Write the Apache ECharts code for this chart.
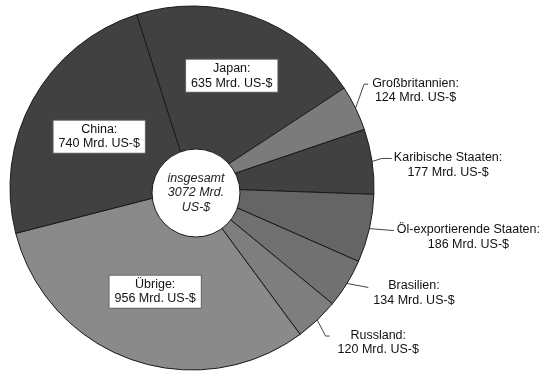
<!DOCTYPE html>
<html><head><meta charset="utf-8">
<script src="https://cdn.jsdelivr.net/npm/echarts@6/dist/echarts.min.js"></script>
<style>html,body{margin:0;padding:0;background:#fff}#c{width:546px;height:371px}</style>
</head><body><div id="c"></div>
<script>
// ---- data ----
const categories = ['Japan', 'Großbritannien', 'Karibische Staaten', 'Öl-exportierende Staaten', 'Brasilien', 'Russland', 'Übrige', 'China'];
const values = [635, 124, 177, 186, 134, 120, 956, 740];
const valueUnit = 'Mrd. US-$';
const totalTitle = 'insgesamt';

// ---- styles / layout ----
const sliceColors = ['#414141', '#7b7b7b', '#414141', '#656565', '#717171', '#7e7e7e', '#8a8a8a', '#414141'];
const insideNames = ['Japan', 'China', 'Übrige'];
const PIE_C = [192, 188];
const PIE_R = 182;
const FONT = "'Liberation Sans', Arial, Helvetica, sans-serif";
const FS = 12.5;
const LH = 14.5;
const labelPlace = {
  'Japan': { dist: 119 },
  'China': { dist: 106 },
  'Übrige': { dist: 110 },
  'Großbritannien': { cx: 60, top: -32, hook: 4, gap: 4, ly: 8 },
  'Karibische Staaten': { cx: 76, top: -11, hook: 10, gap: 2, ly: 8 },
  'Öl-exportierende Staaten': { cx: 99, top: -6, hook: 0, gap: 3, ly: 8 },
  'Brasilien': { cx: 67, top: -5, hook: 0, gap: 5, ly: 9 },
  'Russland': { cx: 61, top: 8, hook: 4, gap: 8, ly: 8 }
};

const total = values.reduce((a, b) => a + b, 0);
const unitParts = valueUnit.split(' ');

const pieData = categories.map((name, i) => {
  const inside = insideNames.indexOf(name) >= 0;
  const item = { name: name, value: values[i], itemStyle: { color: sliceColors[i] } };
  if (inside) {
    item.label = {
      position: 'inside',
      formatter: '{b}:\n{c} ' + valueUnit,
      backgroundColor: '#fff', borderColor: '#666', borderWidth: 1,
      padding: [2, 5, 1, 5], lineHeight: LH, align: 'center'
    };
  } else {
    item.label = {
      position: 'outside',
      formatter: '{t|' + name + ':}\n{t|' + values[i] + ' ' + valueUnit + '}',
      rich: { t: { align: 'center', fontSize: FS, lineHeight: LH, fontFamily: FONT, color: '#111' } }
    };
  }
  return item;
});

const chart = echarts.init(document.getElementById('c'), null, { renderer: 'canvas' });
chart.setOption({
  animation: false,
  backgroundColor: '#fff',
  series: [
    {
      type: 'pie',
      center: PIE_C,
      radius: [0, PIE_R],
      startAngle: 107.7,
      clockwise: true,
      avoidLabelOverlap: false,
      silent: true,
      emphasis: { disabled: true },
      itemStyle: { borderColor: '#1a1a1a', borderWidth: 1 },
      label: { show: true, fontFamily: FONT, fontSize: FS, color: '#111' },
      labelLine: { show: true, length: 10, length2: 5, lineStyle: { color: '#444', width: 1 } },
      labelLayout: function (p) {
        if (p.seriesIndex !== 0) return {};
        const name = categories[p.dataIndex];
        const pl = labelPlace[name];
        if (!pl) return {};
        const r = p.labelRect;
        if (pl.dist) {
          const lx = r.x + r.width / 2, ly = r.y + r.height / 2;
          const vx = lx - PIE_C[0], vy = ly - PIE_C[1];
          const L = Math.hypot(vx, vy) || 1;
          return { x: PIE_C[0] + vx / L * pl.dist, y: PIE_C[1] + vy / L * pl.dist };
        }
        let p1;
        if (p.labelLinePoints && p.labelLinePoints[0]) {
          p1 = p.labelLinePoints[0];
        } else {
          const lx = r.x, ly = r.y + r.height / 2;
          const vx = lx - PIE_C[0], vy = ly - PIE_C[1];
          const L = Math.hypot(vx, vy) || 1;
          p1 = [PIE_C[0] + vx / L * PIE_R, PIE_C[1] + vy / L * PIE_R];
        }
        const left = p1[0] + pl.cx - r.width / 2;
        const top = p1[1] + pl.top;
        const p3 = [left - pl.gap, top + pl.ly];
        const p2 = [p3[0] - pl.hook, p3[1]];
        return { x: left, y: top, align: 'left', verticalAlign: 'top', labelLinePoints: [p1, p2, p3] };
      },
      data: pieData
    },
    {
      type: 'pie',
      center: [196, 193],
      radius: [0, 44],
      silent: true,
      emphasis: { disabled: true },
      itemStyle: { color: '#fff', borderColor: '#1a1a1a', borderWidth: 1 },
      label: {
        show: true, position: 'center',
        formatter: totalTitle + '\n' + total + ' ' + unitParts[0] + '\n' + unitParts.slice(1).join(' '),
        fontFamily: FONT, fontStyle: 'italic', fontSize: FS, lineHeight: LH, color: '#222'
      },
      labelLine: { show: false },
      data: [{ name: totalTitle, value: total }]
    }
  ]
});
</script>
</body></html>
